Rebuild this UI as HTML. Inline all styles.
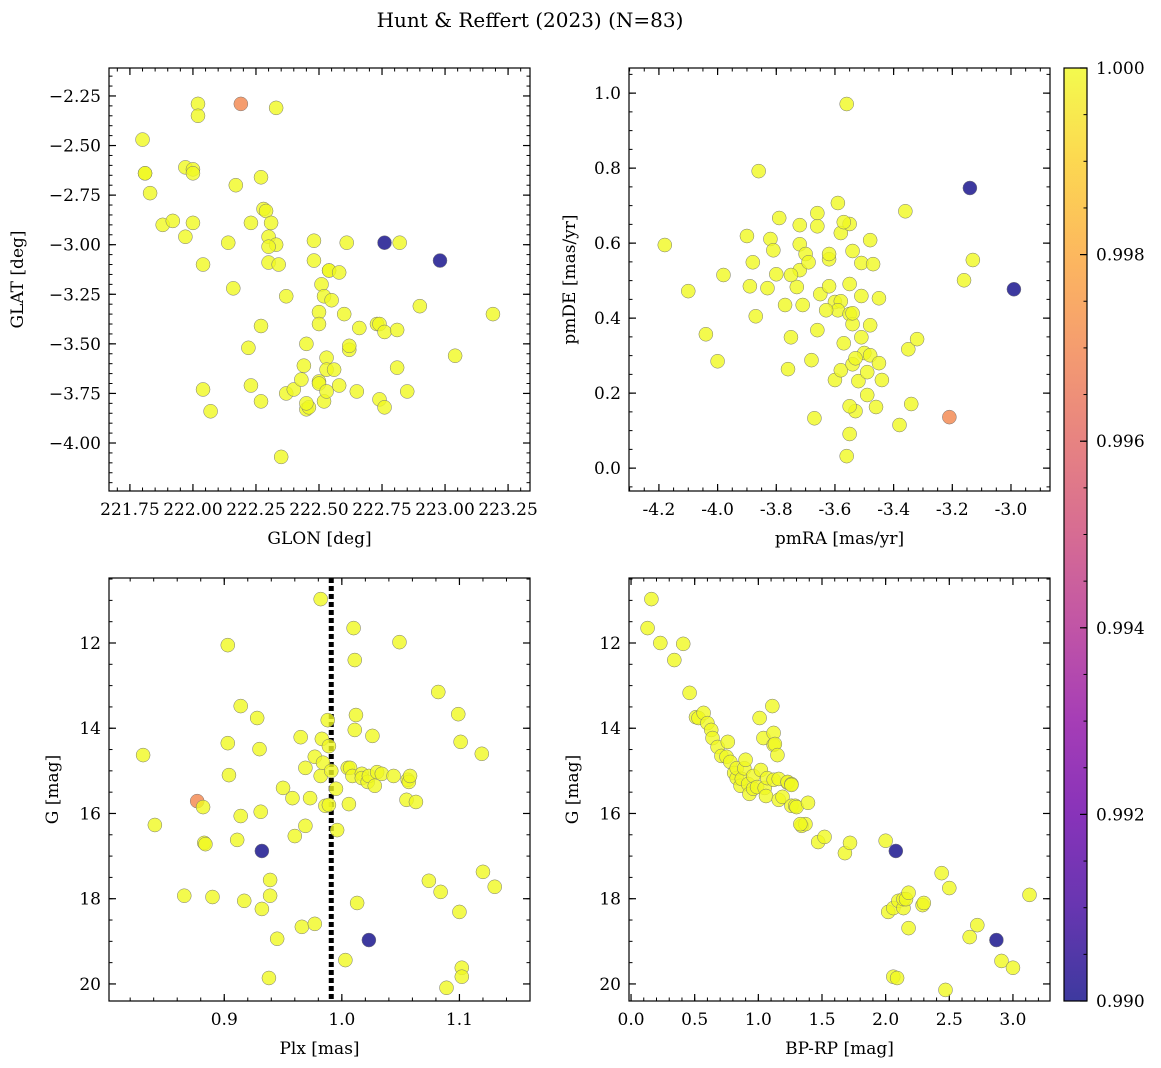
<!DOCTYPE html>
<html><head><meta charset="utf-8">
<style>
html,body{margin:0;padding:0;background:#fff;}
svg{display:block;font-family:"DejaVu Serif","Liberation Serif",serif;}
</style></head>
<body>
<svg id="fig" width="1161" height="1068" viewBox="0 0 1161 1068" xmlns="http://www.w3.org/2000/svg">
<defs>
<linearGradient id="plasma" x1="0" y1="1" x2="0" y2="0">
<stop offset="0" stop-color="#0d0887"/><stop offset="0.1" stop-color="#41049d"/><stop offset="0.2" stop-color="#6a00a8"/><stop offset="0.3" stop-color="#8f0da4"/><stop offset="0.4" stop-color="#b12a90"/><stop offset="0.5" stop-color="#cc4778"/><stop offset="0.6" stop-color="#e16462"/><stop offset="0.7" stop-color="#f2844b"/><stop offset="0.8" stop-color="#fca636"/><stop offset="0.9" stop-color="#fcce25"/><stop offset="1" stop-color="#f0f921"/>
</linearGradient>
</defs>
<text x="530" y="27" text-anchor="middle" font-size="20">Hunt &amp; Reffert (2023) (N=83)</text>
</svg>
<script>
// Panel data: [x, y, membership probability]
const posData = [[221.80,-2.47,1],[221.81,-2.64,1],[221.81,-2.64,1],[221.83,-2.74,1],[221.88,-2.90,1],[221.92,-2.88,1],[221.97,-2.96,1],[221.97,-2.61,1],[222.00,-2.62,1],[222.00,-2.64,1],[222.00,-2.89,1],[222.02,-2.29,1],[222.02,-2.35,1],[222.04,-3.10,1],[222.04,-3.73,1],[222.07,-3.84,1],[222.14,-2.99,1],[222.16,-3.22,1],[222.17,-2.70,1],[222.19,-2.29,0.997],[222.22,-3.52,1],[222.23,-3.71,1],[222.23,-2.89,1],[222.27,-3.79,1],[222.27,-2.66,1],[222.28,-2.82,1],[222.29,-2.83,1],[222.30,-2.96,1],[222.31,-2.89,1],[222.30,-3.09,1],[222.27,-3.41,1],[222.33,-2.31,1],[222.33,-3.00,1],[222.34,-3.10,1],[222.37,-3.26,1],[222.37,-3.75,1],[222.40,-3.73,1],[222.44,-3.61,1],[222.43,-3.68,1],[222.45,-3.83,1],[222.46,-3.82,1],[222.45,-3.50,1],[222.48,-2.98,1],[222.48,-3.08,1],[222.50,-3.69,1],[222.50,-3.34,1],[222.50,-3.40,1],[222.50,-3.70,1],[222.51,-3.20,1],[222.52,-3.26,1],[222.54,-3.13,1],[222.54,-3.13,1],[222.53,-3.57,1],[222.52,-3.79,1],[222.53,-3.74,1],[222.53,-3.63,1],[222.56,-3.63,1],[222.58,-3.71,1],[222.60,-3.35,1],[222.61,-2.99,1],[222.62,-3.53,1],[222.62,-3.51,1],[222.66,-3.42,1],[222.65,-3.74,1],[222.73,-3.40,1],[222.74,-3.78,1],[222.76,-2.99,0.990],[222.82,-2.99,1],[222.74,-3.40,1],[222.76,-3.82,1],[222.76,-3.44,1],[222.81,-3.43,1],[222.81,-3.62,1],[222.85,-3.74,1],[222.90,-3.31,1],[222.98,-3.08,0.990],[223.04,-3.56,1],[223.19,-3.35,1],[222.35,-4.07,1],[222.55,-3.28,1],[222.45,-3.80,1],[222.58,-3.14,1],[222.30,-3.01,1]];
const pmData = [[-4.18,0.595,1],[-4.10,0.472,1],[-4.04,0.357,1],[-4.00,0.285,1],[-3.98,0.515,1],[-3.90,0.619,1],[-3.89,0.485,1],[-3.88,0.549,1],[-3.87,0.405,1],[-3.86,0.792,1],[-3.83,0.480,1],[-3.82,0.611,1],[-3.81,0.581,1],[-3.80,0.517,1],[-3.79,0.667,1],[-3.77,0.435,1],[-3.76,0.264,1],[-3.75,0.349,1],[-3.73,0.483,1],[-3.72,0.648,1],[-3.71,0.435,1],[-3.72,0.597,1],[-3.72,0.528,1],[-3.70,0.571,1],[-3.69,0.549,1],[-3.68,0.288,1],[-3.67,0.133,1],[-3.66,0.680,1],[-3.65,0.464,1],[-3.66,0.645,1],[-3.62,0.557,1],[-3.62,0.571,1],[-3.62,0.485,1],[-3.60,0.235,1],[-3.58,0.261,1],[-3.58,0.627,1],[-3.57,0.333,1],[-3.55,0.651,1],[-3.54,0.277,1],[-3.54,0.579,1],[-3.52,0.232,1],[-3.51,0.547,1],[-3.51,0.459,1],[-3.50,0.307,1],[-3.48,0.608,1],[-3.48,0.301,1],[-3.48,0.381,1],[-3.47,0.544,1],[-3.46,0.163,1],[-3.45,0.453,1],[-3.45,0.280,1],[-3.44,0.235,1],[-3.60,0.443,1],[-3.58,0.445,1],[-3.55,0.491,1],[-3.59,0.421,1],[-3.55,0.411,1],[-3.56,0.971,1],[-3.56,0.032,1],[-3.55,0.091,1],[-3.53,0.152,1],[-3.59,0.707,1],[-3.57,0.656,1],[-3.54,0.384,1],[-3.53,0.293,1],[-3.49,0.256,1],[-3.49,0.195,1],[-3.55,0.165,1],[-3.54,0.413,1],[-3.36,0.685,1],[-3.35,0.317,1],[-3.34,0.171,1],[-3.38,0.115,1],[-3.32,0.344,1],[-3.21,0.136,0.997],[-3.16,0.501,1],[-3.14,0.747,0.990],[-3.13,0.555,1],[-2.99,0.477,0.990],[-3.75,0.515,1],[-3.63,0.421,1],[-3.66,0.368,1],[-3.51,0.349,1]];
const plxData = [[0.831,14.63,1],[0.841,16.27,1],[0.866,17.93,1],[0.877,15.71,0.997],[0.882,15.85,1],[0.883,16.69,1],[0.884,16.72,1],[0.890,17.96,1],[0.903,12.05,1],[0.903,14.35,1],[0.904,15.10,1],[0.911,16.62,1],[0.914,16.06,1],[0.917,18.05,1],[0.914,13.48,1],[0.928,13.76,1],[0.930,14.49,1],[0.931,15.96,1],[0.932,18.24,1],[0.939,17.93,1],[0.939,17.56,1],[0.945,18.94,1],[0.950,15.40,1],[0.938,19.86,1],[0.958,15.64,1],[0.960,16.53,1],[0.965,14.21,1],[0.969,16.29,1],[0.966,18.66,1],[0.969,14.93,1],[0.977,18.59,1],[0.973,15.64,1],[0.977,14.67,1],[0.982,10.97,1],[0.982,15.12,1],[0.983,14.25,1],[0.984,14.81,1],[0.986,15.82,1],[0.988,13.81,1],[0.989,14.42,1],[0.989,15.80,1],[0.991,15.00,1],[0.995,15.42,1],[0.996,16.39,1],[1.003,19.44,1],[1.005,14.93,1],[1.006,15.78,1],[1.007,14.93,1],[1.010,11.65,1],[1.009,15.12,1],[1.011,14.04,1],[1.011,12.40,1],[1.012,13.69,1],[1.013,18.10,1],[1.017,15.07,1],[1.017,15.17,1],[1.022,15.26,1],[1.023,15.12,1],[1.026,14.18,1],[1.028,15.35,1],[1.030,15.03,1],[1.034,15.07,1],[1.044,15.12,1],[1.049,11.98,1],[1.055,15.68,1],[1.056,15.21,1],[1.057,15.26,1],[1.058,15.12,1],[1.063,15.73,1],[1.074,17.58,1],[1.082,13.15,1],[1.084,17.84,1],[1.089,20.09,1],[1.099,13.67,1],[1.100,18.31,1],[1.101,14.32,1],[1.102,19.62,1],[1.102,19.83,1],[1.119,14.60,1],[1.120,17.37,1],[1.130,17.72,1],[0.932,16.88,0.990],[1.023,18.97,0.990]];
const cmdData = [[0.16,10.97,1],[0.13,11.65,1],[0.23,12.00,1],[0.34,12.40,1],[0.41,12.02,1],[0.46,13.17,1],[0.51,13.74,1],[0.53,13.76,1],[0.57,13.64,1],[0.60,13.88,1],[0.63,14.04,1],[0.64,14.23,1],[0.68,14.44,1],[0.71,14.65,1],[0.75,14.67,1],[0.76,14.32,1],[0.78,14.79,1],[0.81,15.05,1],[0.83,15.17,1],[0.83,14.94,1],[0.86,15.35,1],[0.87,15.19,1],[0.89,14.94,1],[0.90,14.74,1],[0.92,15.31,1],[0.93,15.54,1],[0.96,15.12,1],[0.96,15.42,1],[0.99,15.38,1],[1.02,14.98,1],[1.04,14.23,1],[1.05,15.40,1],[1.06,15.59,1],[1.07,15.17,1],[1.11,13.48,1],[1.12,14.11,1],[1.12,14.39,1],[1.13,14.37,1],[1.12,15.21,1],[1.15,14.63,1],[1.16,15.68,1],[1.16,15.19,1],[1.19,15.61,1],[1.23,15.28,1],[1.23,15.26,1],[1.26,15.31,1],[1.26,15.33,1],[1.26,15.82,1],[1.29,15.82,1],[1.30,15.85,1],[1.34,16.29,1],[1.37,16.25,1],[1.39,15.75,1],[1.33,16.25,1],[1.47,16.67,1],[1.52,16.55,1],[1.68,16.93,1],[1.72,16.69,1],[2.00,16.64,1],[2.02,18.31,1],[2.06,18.22,1],[2.10,18.05,1],[2.14,18.22,1],[2.14,18.01,1],[2.16,18.01,1],[2.18,18.69,1],[2.18,17.86,1],[2.29,18.15,1],[2.30,18.10,1],[2.06,19.83,1],[2.09,19.86,1],[2.44,17.40,1],[2.50,17.75,1],[2.66,18.90,1],[2.72,18.62,1],[2.47,20.14,1],[2.91,19.46,1],[3.00,19.62,1],[3.13,17.91,1],[2.08,16.88,0.990],[2.87,18.97,0.990],[1.01,13.76,1]];
const plxMean = [0.991];
const posXTicks = [221.75,222.00,222.25,222.50,222.75,223.00,223.25];
const posYTicks = [-2.25,-2.50,-2.75,-3.00,-3.25,-3.50,-3.75,-4.00];
const pmXTicks = [-4.2,-4.0,-3.8,-3.6,-3.4,-3.2,-3.0];
const pmYTicks = [0.0,0.2,0.4,0.6,0.8,1.0];
const plxXTicks = [0.9,1.0,1.1];
const gTicks = [12,14,16,18,20];
const cmdXTicks = [0.0,0.5,1.0,1.5,2.0,2.5,3.0];
const cbTicks = [0.990,0.992,0.994,0.996,0.998,1.000];

const NS = "http://www.w3.org/2000/svg";
const svg = document.getElementById('fig');
function mk(tag, attrs, parent){const e=document.createElementNS(NS,tag);for(const k in attrs)e.setAttribute(k,attrs[k]);(parent||svg).appendChild(e);return e;}
const stops=[[0,[13,8,135]],[0.1,[65,4,157]],[0.2,[106,0,168]],[0.3,[143,13,164]],[0.4,[177,42,144]],[0.5,[204,71,120]],[0.6,[225,100,98]],[0.7,[242,132,75]],[0.8,[252,166,54]],[0.9,[252,206,37]],[1,[240,249,33]]];
function plasma(t){t=Math.max(0,Math.min(1,t));for(let i=1;i<stops.length;i++){if(t<=stops[i][0]){const a=stops[i-1],b=stops[i];const f=(t-a[0])/(b[0]-a[0]);const c=a[1].map((v,j)=>Math.round(v+(b[1][j]-v)*f));return `rgb(${c[0]},${c[1]},${c[2]})`;}}return 'rgb(240,249,33)';}
const vmin=0.990,vmax=1.000;

function panel(cfg){
  const g=mk('g',{});
  
  
  const {x0,y0,w,h,xr,yr}=cfg;
  const sx=v=>x0+(v-xr[0])/(xr[1]-xr[0])*w;
  const sy=v=>y0+(v-yr[0])/(yr[1]-yr[0])*h;
  const lo=Math.min(xr[0],xr[1]),hi=Math.max(xr[0],xr[1]);
  // minor ticks
  const mkTicks=(step,range,len,isX)=>{const a=Math.min(range[0],range[1]),b=Math.max(range[0],range[1]);for(let v=Math.ceil(a/step-1e-6)*step;v<=b+1e-9;v+=step){if(isX){const p=sx(v);mk('line',{x1:p,x2:p,y1:y0+h,y2:y0+h-len,stroke:'#000','stroke-width':1},g);mk('line',{x1:p,x2:p,y1:y0,y2:y0+len,stroke:'#000','stroke-width':1},g);}else{const p=sy(v);mk('line',{y1:p,y2:p,x1:x0,x2:x0+len,stroke:'#000','stroke-width':1},g);mk('line',{y1:p,y2:p,x1:x0+w,x2:x0+w-len,stroke:'#000','stroke-width':1},g);}}};
  mkTicks(cfg.xminor,xr,3.5,true);mkTicks(cfg.yminor,yr,3.5,false);
  cfg.xt.forEach(v=>{const p=sx(v);mk('line',{x1:p,x2:p,y1:y0+h,y2:y0+h-7,stroke:'#000','stroke-width':1.2},g);mk('line',{x1:p,x2:p,y1:y0,y2:y0+7,stroke:'#000','stroke-width':1.2},g);const t=mk('text',{x:p,y:y0+h+24,'text-anchor':'middle','font-size':17},g);t.textContent=v.toFixed(cfg.xd);});
  cfg.yt.forEach(v=>{const p=sy(v);mk('line',{y1:p,y2:p,x1:x0,x2:x0+7,stroke:'#000','stroke-width':1.2},g);mk('line',{y1:p,y2:p,x1:x0+w,x2:x0+w-7,stroke:'#000','stroke-width':1.2},g);const t=mk('text',{x:x0-8,y:p+6,'text-anchor':'end','font-size':17},g);t.textContent=v.toFixed(cfg.yd).replace('-','\u2212');});
  if(cfg.vline!==undefined){const l=mk('line',{x1:sx(cfg.vline),x2:sx(cfg.vline),y1:y0,y2:y0+h,stroke:'#000','stroke-width':5,'stroke-dasharray':'5 3'},g);}
  const clip='clip-'+cfg.name;const cp=mk('clipPath',{id:clip},g);mk('rect',{x:x0,y:y0,width:w,height:h},cp);
  const pg=mk('g',{'clip-path':`url(#${clip})`},g);
  cfg.data.forEach(d=>{const c=mk('circle',{cx:sx(d[0]),cy:sy(d[1]),r:7,fill:plasma((d[2]-vmin)/(vmax-vmin)),'fill-opacity':0.8,stroke:'#777','stroke-width':0.5},pg);});
  const fr=mk('rect',{x:x0,y:y0,width:w,height:h,fill:'none',stroke:'#000','stroke-width':1.2},g);
  const xl=mk('text',{x:x0+w/2,y:y0+h+53,'text-anchor':'middle','font-size':17},g);xl.textContent=cfg.xlabel;
  const yl=mk('text',{x:0,y:0,'text-anchor':'middle','font-size':17,transform:`translate(${cfg.ylx},${y0+h/2}) rotate(-90)`},g);yl.textContent=cfg.ylabel;
}
panel({name:'position-panel',x0:109,y0:68,w:421,h:423,xr:[221.667,223.337],yr:[-2.109,-4.242],xt:posXTicks,yt:posYTicks,xd:2,yd:2,xminor:0.05,yminor:0.05,data:posData,xlabel:'GLON [deg]',ylabel:'GLAT [deg]',ylx:23});
panel({name:'proper-motion-panel',x0:629,y0:68,w:421,h:423,xr:[-4.302,-2.867],yr:[1.067,-0.061],xt:pmXTicks,yt:pmYTicks,xd:1,yd:1,xminor:0.05,yminor:0.05,data:pmData,xlabel:'pmRA [mas/yr]',ylabel:'pmDE [mas/yr]',ylx:575});
panel({name:'parallax-panel',x0:109,y0:578,w:421,h:423,xr:[0.802,1.160],yr:[10.475,20.40],xt:plxXTicks,yt:gTicks,xd:1,yd:0,xminor:0.02,yminor:0.5,data:plxData,xlabel:'Plx [mas]',ylabel:'G [mag]',ylx:58,vline:plxMean[0]});
panel({name:'cmd-panel',x0:629,y0:578,w:421,h:423,xr:[-0.016,3.291],yr:[10.475,20.40],xt:cmdXTicks,yt:gTicks,xd:1,yd:0,xminor:0.1,yminor:0.5,data:cmdData,xlabel:'BP-RP [mag]',ylabel:'G [mag]',ylx:578});
// colorbar
const cb=mk('g',{});


const cbx=1064,cby=68,cbw=23,cbh=933;
mk('rect',{x:cbx,y:cby,width:cbw,height:cbh,fill:'url(#plasma)','fill-opacity':0.8},cb);
const cy=v=>cby+(vmax-v)/(vmax-vmin)*cbh;
for(let v=vmin;v<=vmax+1e-9;v+=0.0005){mk('line',{x1:cbx+cbw,x2:cbx+cbw-3.5,y1:cy(v),y2:cy(v),stroke:'#000','stroke-width':1},cb);}
cbTicks.forEach(v=>{mk('line',{x1:cbx+cbw,x2:cbx+cbw-7,y1:cy(v),y2:cy(v),stroke:'#000','stroke-width':1.2},cb);const t=mk('text',{x:cbx+cbw+9,y:cy(v)+6,'font-size':17},cb);t.textContent=v.toFixed(3);});
mk('rect',{x:cbx,y:cby,width:cbw,height:cbh,fill:'none',stroke:'#000','stroke-width':1.2},cb);
</script>
</body></html>
